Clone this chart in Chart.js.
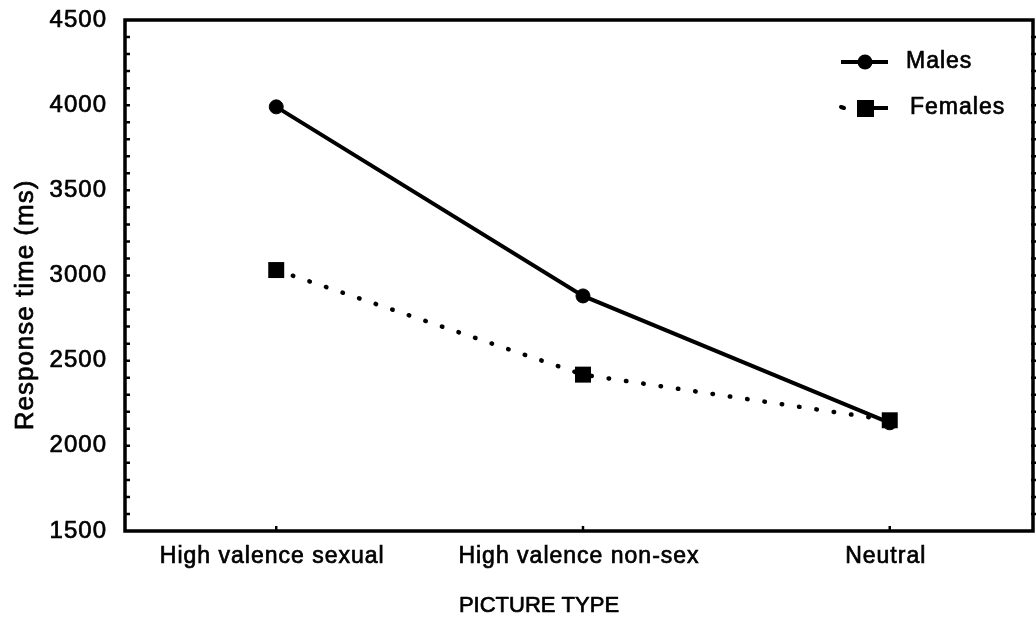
<!DOCTYPE html>
<html>
<head>
<meta charset="utf-8">
<script src="https://cdn.jsdelivr.net/npm/chart.js@4"></script>
<style>
  html, body { margin: 0; padding: 0; background: #fff; }
  #wrap { width: 1036px; height: 623px; }
</style>
</head>
<body>
<div id="wrap"><canvas id="rtChart" width="1036" height="623"></canvas></div>
<script>
// data
const categories = ['High valence sexual', 'High valence non-sex', 'Neutral'];
const males = [3990, 2880, 2135];
const females = [3032, 2418, 2150];
const yTicks = [1500, 2000, 2500, 3000, 3500, 4000, 4500];
const xTitle = 'PICTURE TYPE';
const yTitle = 'Response time (ms)';

const FONT = '"Liberation Sans", Helvetica, Arial, sans-serif';
const INK = 0.7; // thin outline so the text looks as heavy as the scan

function inkText(ctx, txt, x, y) {
    ctx.lineWidth = INK;
    ctx.strokeStyle = '#000';
    ctx.lineJoin = 'round';
    ctx.strokeText(txt, x, y);
    ctx.fillText(txt, x, y);
}

// the scanned type is a bit wider than Liberation Sans, so space it out a little
const spacingPlugin = {
    id: 'spacing',
    beforeDraw(chart) {
        chart.ctx.letterSpacing = '1px';
    }
};

// frame + small inward ticks, like the original plot box, plus axis titles
const framePlugin = {
    id: 'frame',
    afterDraw(chart) {
        const { ctx, chartArea: a, scales } = chart;
        const y = scales.y, x = scales.x;
        ctx.save();
        ctx.strokeStyle = '#000';
        ctx.lineWidth = 3.5;
        ctx.beginPath();
        ctx.moveTo(a.left, a.top);
        ctx.lineTo(a.right, a.top);
        ctx.lineTo(a.right, a.bottom);
        ctx.lineTo(a.left, a.bottom);
        ctx.closePath();
        ctx.stroke();

        ctx.lineWidth = 2.5;
        for (let v = y.min + 100; v < y.max; v += 100) {
            const py = y.getPixelForValue(v);
            ctx.beginPath();
            ctx.moveTo(a.left, py); ctx.lineTo(a.left + 5, py);
            ctx.moveTo(a.right - 2, py); ctx.lineTo(a.right + 4, py);
            ctx.stroke();
        }
        categories.forEach((c, i) => {
            const px = x.getPixelForValue(i);
            ctx.beginPath();
            ctx.moveTo(px, a.bottom); ctx.lineTo(px, a.bottom - 5);
            ctx.stroke();
        });

        ctx.fillStyle = '#000';
        ctx.textAlign = 'center';
        ctx.textBaseline = 'middle';

        // y title sits below the middle in the original
        ctx.save();
        ctx.letterSpacing = '1px';
        ctx.font = '26px ' + FONT;
        ctx.translate(26, 305);
        ctx.rotate(-Math.PI / 2);
        inkText(ctx, yTitle, 0, 0);
        ctx.restore();

        // x title, a bit left of centre
        ctx.letterSpacing = '0px';
        ctx.font = '22px ' + FONT;
        inkText(ctx, xTitle, 539, 606);
        ctx.restore();
    }
};

// legend drawn the way the figure has it (line + marker)
const legendPlugin = {
    id: 'figLegend',
    afterDraw(chart) {
        const ctx = chart.ctx;
        ctx.save();
        ctx.letterSpacing = '1px';
        ctx.fillStyle = '#000';
        ctx.strokeStyle = '#000';
        ctx.font = '23px ' + FONT;
        ctx.textBaseline = 'middle';

        // Males
        ctx.lineWidth = 4;
        ctx.beginPath(); ctx.moveTo(841, 62); ctx.lineTo(888, 62); ctx.stroke();
        ctx.beginPath(); ctx.arc(865, 62, 7.5, 0, Math.PI * 2); ctx.fill();

        // Females
        ctx.lineWidth = 4;
        ctx.lineCap = 'round';
        ctx.beginPath(); ctx.moveTo(841, 107); ctx.lineTo(844, 108); ctx.stroke();
        ctx.lineCap = 'butt';
        ctx.beginPath(); ctx.moveTo(866, 108); ctx.lineTo(888, 108); ctx.stroke();
        ctx.fillRect(857, 100, 17, 17);

        inkText(ctx, 'Males', 906, 62);
        inkText(ctx, 'Females', 910, 108);
        ctx.restore();
    }
};

const chart = new Chart(document.getElementById('rtChart'), {
    type: 'line',
    data: {
        datasets: [
            {
                label: 'Males',
                data: males.map((v, i) => ({ x: i, y: v })),
                borderColor: '#000',
                backgroundColor: '#000',
                borderWidth: 4,
                pointStyle: 'circle',
                pointRadius: 7,
                pointBorderWidth: 1,
                pointBackgroundColor: '#000',
                tension: 0,
                order: 2
            },
            {
                label: 'Females',
                data: females.map((v, i) => ({ x: i, y: v })),
                borderColor: '#000',
                backgroundColor: '#000',
                borderWidth: 4.5,
                borderDash: [0.5, 17],
                borderCapStyle: 'round',
                pointStyle: 'rect',
                pointRadius: 11.3,
                pointBorderWidth: 0,
                pointBackgroundColor: '#000',
                tension: 0,
                order: 1
            }
        ]
    },
    options: {
        responsive: false,
        animation: false,
        devicePixelRatio: 1,
        layout: { padding: { top: 20, right: 3, bottom: 0, left: 0 }, autoPadding: false },
        plugins: {
            legend: { display: false },
            tooltip: { enabled: false }
        },
        scales: {
            x: {
                type: 'linear',
                min: -0.493,
                max: 2.467,
                grid: { display: false, drawTicks: false },
                border: { display: false },
                afterBuildTicks: s => { s.ticks = categories.map((c, i) => ({ value: i })); },
                afterFit: s => {
                    s.height = 92;
                    s.paddingLeft = 0; s.paddingRight = 0;
                },
                ticks: {
                    color: '#000',
                    padding: 12,
                    labelOffset: -4,
                    maxRotation: 0,
                    autoSkip: false,
                    textStrokeColor: '#000',
                    textStrokeWidth: INK,
                    font: { family: FONT, size: 23 },
                    callback: v => categories[v]
                },
                title: { display: false }
            },
            y: {
                min: 1500,
                max: 4500,
                grid: { display: false, drawTicks: false },
                border: { display: false },
                afterBuildTicks: s => { s.ticks = yTicks.map(v => ({ value: v })); },
                afterFit: s => {
                    s.width = 125;
                    s.paddingTop = 0; s.paddingBottom = 0;
                },
                ticks: {
                    color: '#000',
                    padding: 18,
                    textStrokeColor: '#000',
                    textStrokeWidth: INK,
                    font: { family: FONT, size: 24 },
                    callback: v => String(v)
                },
                title: { display: false }
            }
        }
    },
    plugins: [spacingPlugin, framePlugin, legendPlugin]
});
</script>
</body>
</html>
